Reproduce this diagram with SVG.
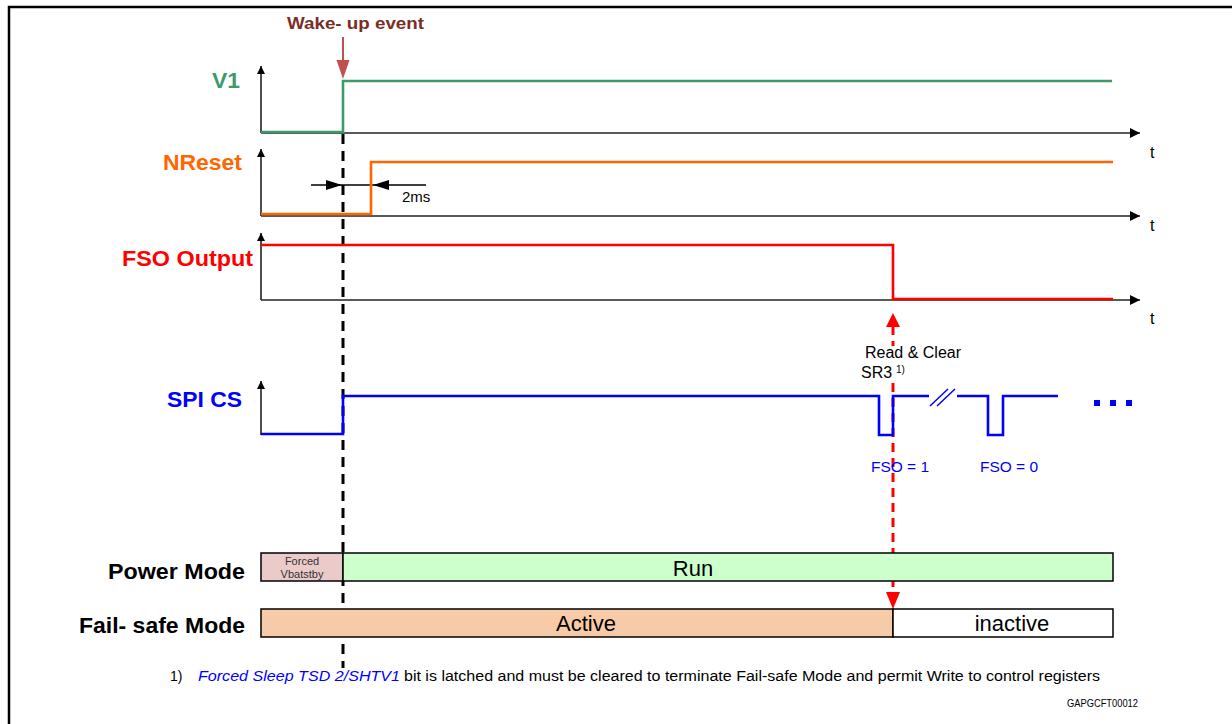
<svg xmlns="http://www.w3.org/2000/svg" width="1232" height="724" viewBox="0 0 1232 724">
<style>
.lbl{font-family:"Liberation Sans",Arial,sans-serif;font-weight:bold;font-size:22px;text-anchor:end}
.t{font-family:"Liberation Sans",Arial,sans-serif;font-size:16px;fill:#000}
.axis{stroke:#222;stroke-width:1.6;fill:none}
.sig{fill:none;stroke-width:2.6}
.box{stroke:#000;stroke-width:1.5}
.bt{font-family:"Liberation Sans",Arial,sans-serif;font-size:22px;text-anchor:middle;fill:#000}
</style>
<defs>
<marker id="ah" viewBox="0 0 10 10" refX="10" refY="5" markerWidth="8" markerHeight="8" markerUnits="userSpaceOnUse" orient="auto"><path d="M0,0 L10,5 L0,10 Z" fill="#000"/></marker>
<marker id="ahx" viewBox="0 0 10 10" refX="10" refY="5" markerWidth="10" markerHeight="10" markerUnits="userSpaceOnUse" orient="auto"><path d="M0,0 L10,5 L0,10 Z" fill="#000"/></marker>
</defs>
<rect width="1232" height="724" fill="#fff"/>
<path d="M9,724 V7 H1232" fill="none" stroke="#000" stroke-width="2.5"/>

<g id="labels">
<text class="lbl" x="240" y="88" fill="#3C9A6B" textLength="28" lengthAdjust="spacingAndGlyphs">V1</text>
<text class="lbl" x="242" y="170" fill="#FF6600" textLength="79" lengthAdjust="spacingAndGlyphs">NReset</text>
<text class="lbl" x="253" y="266" fill="#FF0000" textLength="131" lengthAdjust="spacingAndGlyphs">FSO Output</text>
<text class="lbl" x="242" y="407" fill="#0000FF" textLength="75" lengthAdjust="spacingAndGlyphs">SPI CS</text>
<text class="lbl" x="245" y="579" fill="#000" textLength="137" lengthAdjust="spacingAndGlyphs">Power Mode</text>
<text class="lbl" x="245" y="633" fill="#000" textLength="166" lengthAdjust="spacingAndGlyphs">Fail- safe Mode</text>
</g>

<g id="axes">
<path class="axis" d="M261,133 V66" marker-end="url(#ah)"/>
<path class="axis" d="M261,133 H1140" marker-end="url(#ahx)"/>
<path class="axis" d="M261,216 V149" marker-end="url(#ah)"/>
<path class="axis" d="M261,216 H1140" marker-end="url(#ahx)"/>
<path class="axis" d="M261,300 V233" marker-end="url(#ah)"/>
<path class="axis" d="M261,300 H1140" marker-end="url(#ahx)"/>
<path class="axis" d="M261,435 V381" marker-end="url(#ah)"/>
<text class="t" x="1150" y="158">t</text>
<text class="t" x="1150" y="231">t</text>
<text class="t" x="1150" y="324">t</text>
</g>

<g id="connectors">
<line x1="893" y1="326" x2="893" y2="346" stroke="#FF0000" stroke-width="3" stroke-dasharray="9,6"/>
<line x1="893" y1="383" x2="893" y2="592" stroke="#FF0000" stroke-width="3" stroke-dasharray="9,6"/>
<path d="M886,327 L893,313 L900,327 Z" fill="#FF0000"/>
<path d="M886,592 L893,609 L900,592 Z" fill="#FF0000"/>
<line x1="343" y1="134" x2="343" y2="668" stroke="#000" stroke-width="3" stroke-dasharray="10,7"/>
<line x1="343" y1="37" x2="343" y2="62" stroke="#C0504D" stroke-width="2"/>
<path d="M336.5,60 L343,79 L349.5,60 Z" fill="#C0504D"/>
<line x1="311" y1="185" x2="426" y2="185" stroke="#000" stroke-width="1.3"/>
<path d="M326,180 L342,185 L326,190 Z" fill="#000"/>
<path d="M389,180 L373,185 L389,190 Z" fill="#000"/>
</g>

<g id="signals">
<path class="sig" stroke="#3C9A6B" d="M261,132 H343 V81 H1112"/>
<path class="sig" stroke="#FF6600" d="M261,214 H371 V162 H1113"/>
<path class="sig" stroke="#FF0000" d="M261,245 H893 V299 H1113"/>
<path class="sig" stroke="#0000FF" d="M261,434 H343 V396 H879 V435 H893 V396 H929"/>
<path class="sig" stroke="#0000FF" d="M957,396 H988 V435 H1003 V396 H1058"/>
<path fill="none" stroke="#0000FF" stroke-width="1.5" d="M930,406 L948,389 M937,406 L955,389"/>
<rect x="1094" y="400" width="6" height="6" fill="#0000FF"/>
<rect x="1110" y="400" width="6" height="6" fill="#0000FF"/>
<rect x="1126" y="400" width="6" height="6" fill="#0000FF"/>
</g>

<g id="annotations">
<text x="287" y="29" font-family="Liberation Sans, Arial, sans-serif" font-weight="bold" font-size="17" fill="#7B2D26" textLength="137" lengthAdjust="spacingAndGlyphs">Wake- up event</text>
<text x="402" y="202" font-family="Liberation Sans, Arial, sans-serif" font-size="15">2ms</text>
<text x="865" y="358" font-family="Liberation Sans, Arial, sans-serif" font-size="16">Read &amp; Clear</text>
<text x="861" y="378" font-family="Liberation Sans, Arial, sans-serif" font-size="16">SR3</text>
<text x="896" y="373" font-family="Liberation Sans, Arial, sans-serif" font-size="10">1)</text>
<text x="900" y="472" font-family="Liberation Sans, Arial, sans-serif" font-size="15.5" fill="#0000FF" text-anchor="middle">FSO = 1</text>
<text x="1009" y="472" font-family="Liberation Sans, Arial, sans-serif" font-size="15.5" fill="#0000FF" text-anchor="middle">FSO = 0</text>
</g>

<g id="power-mode">
<rect class="box" x="261" y="553" width="82" height="28" fill="#EBCACA"/>
<text x="302" y="565" font-family="Liberation Sans, Arial, sans-serif" font-size="11" text-anchor="middle" fill="#333">Forced</text>
<text x="302" y="578" font-family="Liberation Sans, Arial, sans-serif" font-size="11" text-anchor="middle" fill="#333">Vbatstby</text>
<rect class="box" x="343" y="553" width="770" height="28" fill="#CCFFCC"/>
<text class="bt" x="693" y="576">Run</text>
</g>

<g id="failsafe-mode">
<rect class="box" x="261" y="609" width="632" height="28" fill="#F8CBA8"/>
<text class="bt" x="586" y="631">Active</text>
<rect class="box" x="893" y="609" width="220" height="28" fill="#fff"/>
<text class="bt" x="1012" y="631">inactive</text>
</g>

<g id="footnote">
<text x="170" y="681" font-family="Liberation Sans, Arial, sans-serif" font-size="14">1)</text>
<text x="198" y="681" font-family="Liberation Sans, Arial, sans-serif" font-size="14" font-style="italic" fill="#0000FF" textLength="202" lengthAdjust="spacingAndGlyphs">Forced Sleep TSD 2/SHTV1</text>
<text x="404" y="681" font-family="Liberation Sans, Arial, sans-serif" font-size="14" textLength="696" lengthAdjust="spacingAndGlyphs">bit is latched and must be cleared to terminate Fail-safe Mode and permit Write to control registers</text>
<text x="1138" y="707" font-family="Liberation Sans, Arial, sans-serif" font-size="10" text-anchor="end" textLength="71" lengthAdjust="spacingAndGlyphs">GAPGCFT00012</text>
</g>
</svg>
